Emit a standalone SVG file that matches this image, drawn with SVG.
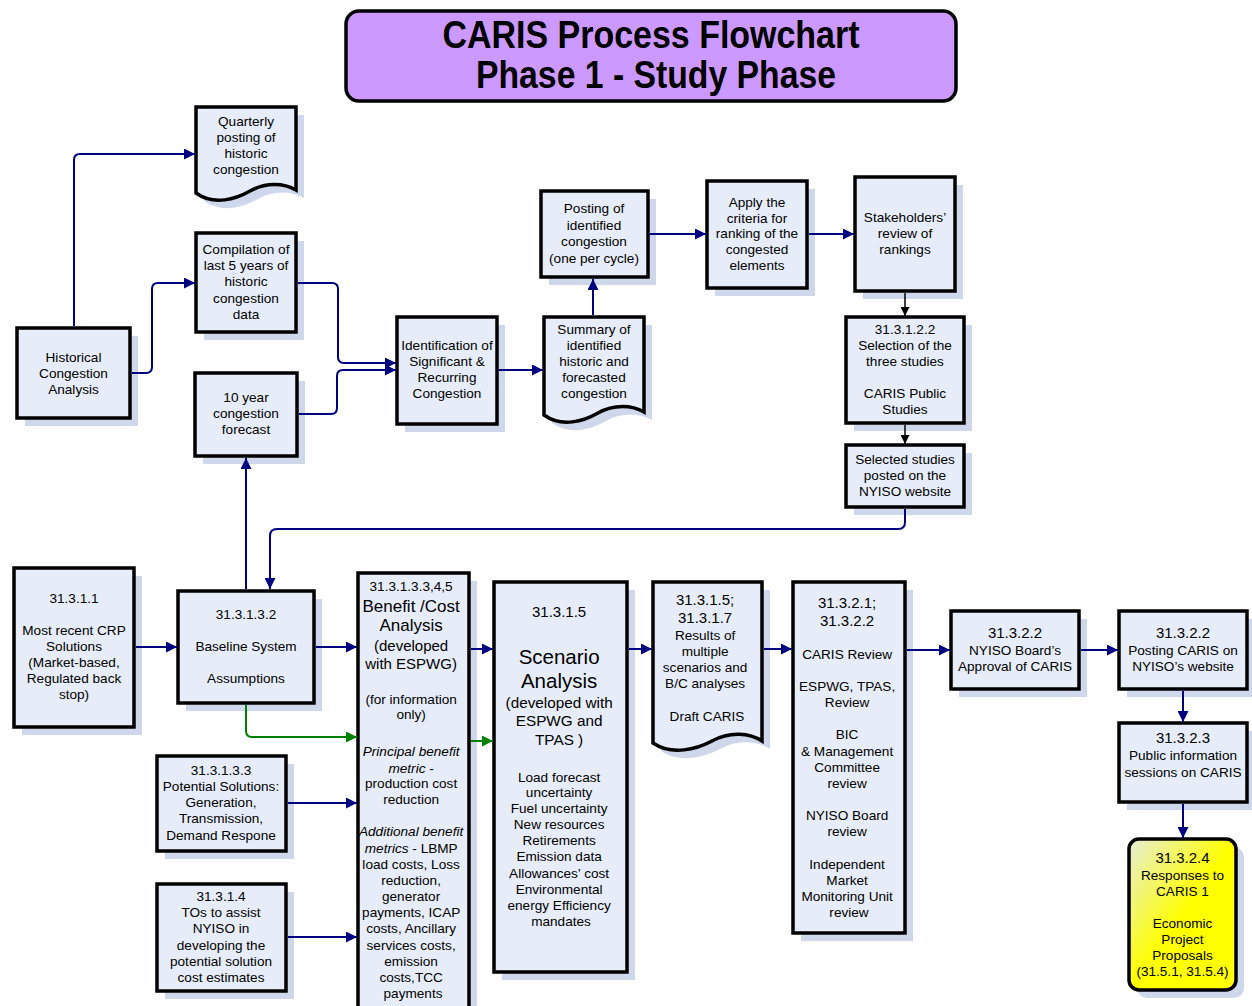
<svg xmlns="http://www.w3.org/2000/svg" width="1252" height="1006" viewBox="0 0 1252 1006">
<style>
.box{fill:#e7edf8;stroke:#000;stroke-width:3.5}
.sh{fill:#cfd8ea}
.t{font-family:"Liberation Sans",Arial,sans-serif;font-size:13.6px;text-anchor:middle;fill:#000}
.code{font-size:15px}
.big{font-size:17px}
.mid{font-size:15.3px}
.huge{font-size:20.5px}
.i{font-style:italic}
.c{stroke:#000080;stroke-width:2;fill:none}
.cb{stroke:#000;stroke-width:1.5;fill:none}
.cg{stroke:#008000;stroke-width:2;fill:none}
.title{font-family:"Liberation Sans Narrow","Liberation Sans",Arial,sans-serif;font-weight:bold;font-size:38px;text-anchor:middle;fill:#000}
</style>
<defs>
<marker id="an" viewBox="0 0 10 10" refX="10" refY="5" markerUnits="userSpaceOnUse" markerWidth="12" markerHeight="11" orient="auto"><path d="M0,0 L10,5 L0,10 z" fill="#000080"/></marker>
<marker id="ag" viewBox="0 0 10 10" refX="10" refY="5" markerUnits="userSpaceOnUse" markerWidth="12" markerHeight="11" orient="auto"><path d="M0,0 L10,5 L0,10 z" fill="#008000"/></marker>
<marker id="ab" viewBox="0 0 10 10" refX="10" refY="5" markerUnits="userSpaceOnUse" markerWidth="9" markerHeight="9" orient="auto"><path d="M0,0 L10,5 L0,10 z" fill="#000"/></marker>
<linearGradient id="yel" x1="0" y1="0" x2="1" y2="1">
<stop offset="0" stop-color="#e6edd8"/>
<stop offset="0.5" stop-color="#ffff00"/>
<stop offset="1" stop-color="#ffff00"/>
</linearGradient>
</defs>

<g id="title">
<rect x="346" y="11" width="610" height="90" rx="13" fill="#cc99ff" stroke="#000" stroke-width="3.5"/>
<text class="title" x="651" y="48" textLength="417" lengthAdjust="spacingAndGlyphs">CARIS Process Flowchart</text>
<text class="title" x="656" y="88" textLength="360" lengthAdjust="spacingAndGlyphs">Phase 1 - Study Phase</text>
</g>

<g id="quarterly">
<path class="sh" transform="translate(8,8)" d="M196,107 H296 V190 C284,183 266,182 250,191 C236,199 214,206 196,193 Z"/>
<path class="box" d="M196,107 H296 V190 C284,183 266,182 250,191 C236,199 214,206 196,193 Z"/>
<text class="t"><tspan x="246" y="126">Quarterly</tspan><tspan x="246" y="142">posting of</tspan><tspan x="246" y="158">historic</tspan><tspan x="246" y="174">congestion</tspan></text>
</g>

<g id="compilation">
<rect class="sh" x="204" y="241" width="100" height="99"/>
<rect class="box" x="196" y="233" width="100" height="99"/>
<text class="t"><tspan x="246" y="254">Compilation of</tspan><tspan x="246" y="270">last 5 years of</tspan><tspan x="246" y="286">historic</tspan><tspan x="246" y="303">congestion</tspan><tspan x="246" y="319">data</tspan></text>
</g>

<g id="historical">
<rect class="sh" x="25" y="336" width="113" height="90"/>
<rect class="box" x="17" y="328" width="113" height="90"/>
<text class="t"><tspan x="73.5" y="362">Historical</tspan><tspan x="73.5" y="378">Congestion</tspan><tspan x="73.5" y="394">Analysis</tspan></text>
</g>

<g id="forecast">
<rect class="sh" x="203" y="381" width="102" height="83"/>
<rect class="box" x="195" y="373" width="102" height="83"/>
<text class="t"><tspan x="246" y="402">10 year</tspan><tspan x="246" y="418">congestion</tspan><tspan x="246" y="434">forecast</tspan></text>
</g>

<g id="identification">
<rect class="sh" x="405" y="325" width="100" height="107"/>
<rect class="box" x="397" y="317" width="100" height="107"/>
<text class="t"><tspan x="447" y="350">Identification of</tspan><tspan x="447" y="366">Significant &amp;</tspan><tspan x="447" y="382">Recurring</tspan><tspan x="447" y="398">Congestion</tspan></text>
</g>

<g id="summary">
<path class="sh" transform="translate(8,8)" d="M544,317 H644 V412 C632,405 614,404 598,413 C584,421 562,428 544,415 Z"/>
<path class="box" d="M544,317 H644 V412 C632,405 614,404 598,413 C584,421 562,428 544,415 Z"/>
<text class="t"><tspan x="594" y="334">Summary of</tspan><tspan x="594" y="350">identified</tspan><tspan x="594" y="366">historic and</tspan><tspan x="594" y="382">forecasted</tspan><tspan x="594" y="398">congestion</tspan></text>
</g>

<g id="posting">
<rect class="sh" x="549" y="199" width="107" height="86"/>
<rect class="box" x="541" y="191" width="107" height="86"/>
<text class="t"><tspan x="594" y="213">Posting of</tspan><tspan x="594" y="229.5">identified</tspan><tspan x="594" y="246">congestion</tspan><tspan x="594" y="262.5">(one per cycle)</tspan></text>
</g>

<g id="apply">
<rect class="sh" x="715" y="189" width="100" height="107"/>
<rect class="box" x="707" y="181" width="100" height="107"/>
<text class="t"><tspan x="757" y="207">Apply the</tspan><tspan x="757" y="223">criteria for</tspan><tspan x="757" y="238">ranking of the</tspan><tspan x="757" y="254">congested</tspan><tspan x="757" y="270">elements</tspan></text>
</g>

<g id="stakeholders">
<rect class="sh" x="863" y="185" width="100" height="114"/>
<rect class="box" x="855" y="177" width="100" height="114"/>
<text class="t"><tspan x="905" y="222">Stakeholders’</tspan><tspan x="905" y="238">review of</tspan><tspan x="905" y="254">rankings</tspan></text>
</g>

<g id="selection">
<rect class="sh" x="854" y="325" width="118" height="106"/>
<rect class="box" x="846" y="317" width="118" height="106"/>
<text class="t"><tspan x="905" y="334">31.3.1.2.2</tspan><tspan x="905" y="350">Selection of the</tspan><tspan x="905" y="366">three studies</tspan><tspan x="905" y="398">CARIS Public</tspan><tspan x="905" y="414">Studies</tspan></text>
</g>

<g id="selected">
<rect class="sh" x="854" y="453" width="118" height="62"/>
<rect class="box" x="846" y="445" width="118" height="62"/>
<text class="t"><tspan x="905" y="464">Selected studies</tspan><tspan x="905" y="480">posted on the</tspan><tspan x="905" y="496">NYISO website</tspan></text>
</g>

<g id="crp">
<rect class="sh" x="22" y="576" width="120" height="159"/>
<rect class="box" x="14" y="568" width="120" height="159"/>
<text class="t"><tspan x="74" y="603">31.3.1.1</tspan><tspan x="74" y="635">Most recent CRP</tspan><tspan x="74" y="651">Solutions</tspan><tspan x="74" y="667">(Market-based,</tspan><tspan x="74" y="683">Regulated back</tspan><tspan x="74" y="699">stop)</tspan></text>
</g>

<g id="baseline">
<rect class="sh" x="186" y="599" width="136" height="112"/>
<rect class="box" x="178" y="591" width="136" height="112"/>
<text class="t"><tspan x="246" y="619">31.3.1.3.2</tspan><tspan x="246" y="651">Baseline System</tspan><tspan x="246" y="683">Assumptions</tspan></text>
</g>

<g id="potential">
<rect class="sh" x="165" y="764" width="129" height="95"/>
<rect class="box" x="157" y="756" width="129" height="95"/>
<text class="t"><tspan x="221" y="775">31.3.1.3.3</tspan><tspan x="221" y="791">Potential Solutions:</tspan><tspan x="221" y="807">Generation,</tspan><tspan x="221" y="823">Transmission,</tspan><tspan x="221" y="840">Demand Respone</tspan></text>
</g>

<g id="tos">
<rect class="sh" x="165" y="892" width="129" height="107"/>
<rect class="box" x="157" y="884" width="129" height="107"/>
<text class="t"><tspan x="221" y="901">31.3.1.4</tspan><tspan x="221" y="917">TOs to assist</tspan><tspan x="221" y="933">NYISO in</tspan><tspan x="221" y="950">developing the</tspan><tspan x="221" y="966">potential solution</tspan><tspan x="221" y="982">cost estimates</tspan></text>
</g>

<g id="benefit">
<rect class="sh" x="366" y="581" width="111" height="440"/>
<rect class="box" x="358" y="573" width="111" height="440"/>
<text class="t">
<tspan x="413" y="591">31.3.1.3.3,4,5</tspan>
<tspan class="big" x="413" y="612">Benefit /Cost</tspan>
<tspan class="big" x="413" y="631">Analysis</tspan>
<tspan class="code" x="413" y="650.5">(developed</tspan>
<tspan class="code" x="413" y="668.5">with ESPWG)</tspan>
<tspan x="413" y="704">(for information</tspan>
<tspan x="413" y="719">only)</tspan>
<tspan class="i" x="413" y="756">Principal benefit</tspan>
<tspan class="i" x="413" y="773">metric</tspan><tspan> -</tspan>
<tspan x="413" y="788">production cost</tspan>
<tspan x="413" y="804">reduction</tspan>
<tspan class="i" x="413" y="836">Additional benefit</tspan>
<tspan class="i" x="413" y="853">metrics</tspan><tspan> -  LBMP</tspan>
<tspan x="413" y="869">load costs, Loss</tspan>
<tspan x="413" y="885">reduction,</tspan>
<tspan x="413" y="901">generator</tspan>
<tspan x="413" y="917">payments, ICAP</tspan>
<tspan x="413" y="933">costs, Ancillary</tspan>
<tspan x="413" y="950">services costs,</tspan>
<tspan x="413" y="966">emission</tspan>
<tspan x="413" y="982">costs,TCC</tspan>
<tspan x="413" y="998">payments</tspan>
</text>
</g>

<g id="scenario">
<rect class="sh" x="502" y="590" width="133" height="390"/>
<rect class="box" x="494" y="582" width="133" height="390"/>
<text class="t">
<tspan class="code" x="561" y="617">31.3.1.5</tspan>
<tspan class="huge" x="561" y="664">Scenario</tspan>
<tspan class="huge" x="561" y="688">Analysis</tspan>
<tspan class="mid" x="561" y="707.5">(developed with</tspan>
<tspan class="mid" x="561" y="726">ESPWG and</tspan>
<tspan class="mid" x="561" y="744.5">TPAS )</tspan>
<tspan x="561" y="782">Load forecast</tspan>
<tspan x="561" y="797">uncertainty</tspan>
<tspan x="561" y="813">Fuel uncertainty</tspan>
<tspan x="561" y="829">New resources</tspan>
<tspan x="561" y="845">Retirements</tspan>
<tspan x="561" y="861">Emission data</tspan>
<tspan x="561" y="878">Allowances’ cost</tspan>
<tspan x="561" y="894">Environmental</tspan>
<tspan x="561" y="910">energy Efficiency</tspan>
<tspan x="561" y="926">mandates</tspan>
</text>
</g>

<g id="results">
<path class="sh" transform="translate(8,8)" d="M653,582 H762 V741 C750,733 730,731 712,741 C697,749 672,756 653,743 Z"/>
<path class="box" d="M653,582 H762 V741 C750,733 730,731 712,741 C697,749 672,756 653,743 Z"/>
<text class="t">
<tspan class="code" x="707" y="604.5">31.3.1.5;</tspan>
<tspan class="code" x="707" y="622.5">31.3.1.7</tspan>
<tspan x="707" y="640">Results of</tspan>
<tspan x="707" y="656">multiple</tspan>
<tspan x="707" y="672">scenarios and</tspan>
<tspan x="707" y="688">B/C analyses</tspan>
<tspan x="707" y="721">Draft CARIS</tspan>
</text>
</g>

<g id="review">
<rect class="sh" x="801" y="590" width="112" height="351"/>
<rect class="box" x="793" y="582" width="112" height="351"/>
<text class="t">
<tspan class="code" x="849" y="607.5">31.3.2.1;</tspan>
<tspan class="code" x="849" y="626">31.3.2.2</tspan>
<tspan x="849" y="659">CARIS Review</tspan>
<tspan x="849" y="691">ESPWG, TPAS,</tspan>
<tspan x="849" y="707">Review</tspan>
<tspan x="849" y="739">BIC</tspan>
<tspan x="849" y="756">&amp; Management</tspan>
<tspan x="849" y="772">Committee</tspan>
<tspan x="849" y="788">review</tspan>
<tspan x="849" y="820">NYISO Board</tspan>
<tspan x="849" y="836">review</tspan>
<tspan x="849" y="869">Independent</tspan>
<tspan x="849" y="885">Market</tspan>
<tspan x="849" y="901">Monitoring Unit</tspan>
<tspan x="849" y="917">review</tspan>
</text>
</g>

<g id="approval">
<rect class="sh" x="959" y="619" width="128" height="78"/>
<rect class="box" x="951" y="611" width="128" height="78"/>
<text class="t"><tspan class="code" x="1015" y="637.5">31.3.2.2</tspan><tspan x="1015" y="655">NYISO Board’s</tspan><tspan x="1015" y="671">Approval of CARIS</tspan></text>
</g>

<g id="postcaris">
<rect class="sh" x="1127" y="619" width="128" height="78"/>
<rect class="box" x="1119" y="611" width="128" height="78"/>
<text class="t"><tspan class="code" x="1183" y="637.5">31.3.2.2</tspan><tspan x="1183" y="655">Posting CARIS on</tspan><tspan x="1183" y="671">NYISO’s website</tspan></text>
</g>

<g id="public">
<rect class="sh" x="1127" y="731" width="128" height="79"/>
<rect class="box" x="1119" y="723" width="128" height="79"/>
<text class="t"><tspan class="code" x="1183" y="743">31.3.2.3</tspan><tspan x="1183" y="760">Public information</tspan><tspan x="1183" y="777">sessions on CARIS</tspan></text>
</g>

<g id="responses">
<rect class="sh" x="1137" y="847" width="107" height="151" rx="10"/>
<rect x="1129" y="839" width="107" height="151" rx="10" fill="url(#yel)" stroke="#000" stroke-width="3.5"/>
<text class="t"><tspan class="code" x="1182.5" y="863">31.3.2.4</tspan><tspan x="1182.5" y="880">Responses to</tspan><tspan x="1182.5" y="896">CARIS 1</tspan><tspan x="1182.5" y="928">Economic</tspan><tspan x="1182.5" y="944">Project</tspan><tspan x="1182.5" y="960">Proposals</tspan><tspan x="1182.5" y="976">(31.5.1, 31.5.4)</tspan></text>
</g>

<g id="connectors">
<path class="c" marker-end="url(#an)" d="M74,326 V160 Q74,154 80,154 H195"/>
<path class="c" marker-end="url(#an)" d="M132,373 H146 Q152,373 152,367 V289 Q152,283 158,283 H195"/>
<path class="c" marker-end="url(#an)" d="M298,283 H332 Q338,283 338,289 V357 Q338,363 344,363 H396"/>
<path class="c" marker-end="url(#an)" d="M299,414 H331 Q337,414 337,408 V376 Q337,370 343,370 H396"/>
<path class="c" marker-end="url(#an)" d="M499,370 H543"/>
<path class="c" marker-end="url(#an)" d="M593,315 V279"/>
<path class="c" marker-end="url(#an)" d="M650,234 H706"/>
<path class="c" marker-end="url(#an)" d="M809,234 H854"/>
<path class="cb" marker-end="url(#ab)" d="M905,293 V316"/>
<path class="cb" marker-end="url(#ab)" d="M905,425 V444"/>
<path class="c" marker-end="url(#an)" d="M905,509 V522 Q905,529 898,529 H277 Q270,529 270,536 V589"/>
<path class="c" marker-end="url(#an)" d="M246,589 V458"/>
<path class="c" marker-end="url(#an)" d="M136,647 H177"/>
<path class="c" marker-end="url(#an)" d="M316,647 H357"/>
<path class="cg" marker-end="url(#ag)" d="M246,705 V731 Q246,737 252,737 H357"/>
<path class="c" marker-end="url(#an)" d="M288,803 H357"/>
<path class="c" marker-end="url(#an)" d="M288,937 H357"/>
<path class="c" marker-end="url(#an)" d="M471,649 H493"/>
<path class="cg" marker-end="url(#ag)" d="M471,741 H493"/>
<path class="c" marker-end="url(#an)" d="M629,649 H652"/>
<path class="c" marker-end="url(#an)" d="M764,649 H792"/>
<path class="c" marker-end="url(#an)" d="M907,650 H950"/>
<path class="c" marker-end="url(#an)" d="M1081,650 H1118"/>
<path class="c" marker-end="url(#an)" d="M1183,691 V722"/>
<path class="c" marker-end="url(#an)" d="M1183,804 V838"/>
</g>
</svg>
